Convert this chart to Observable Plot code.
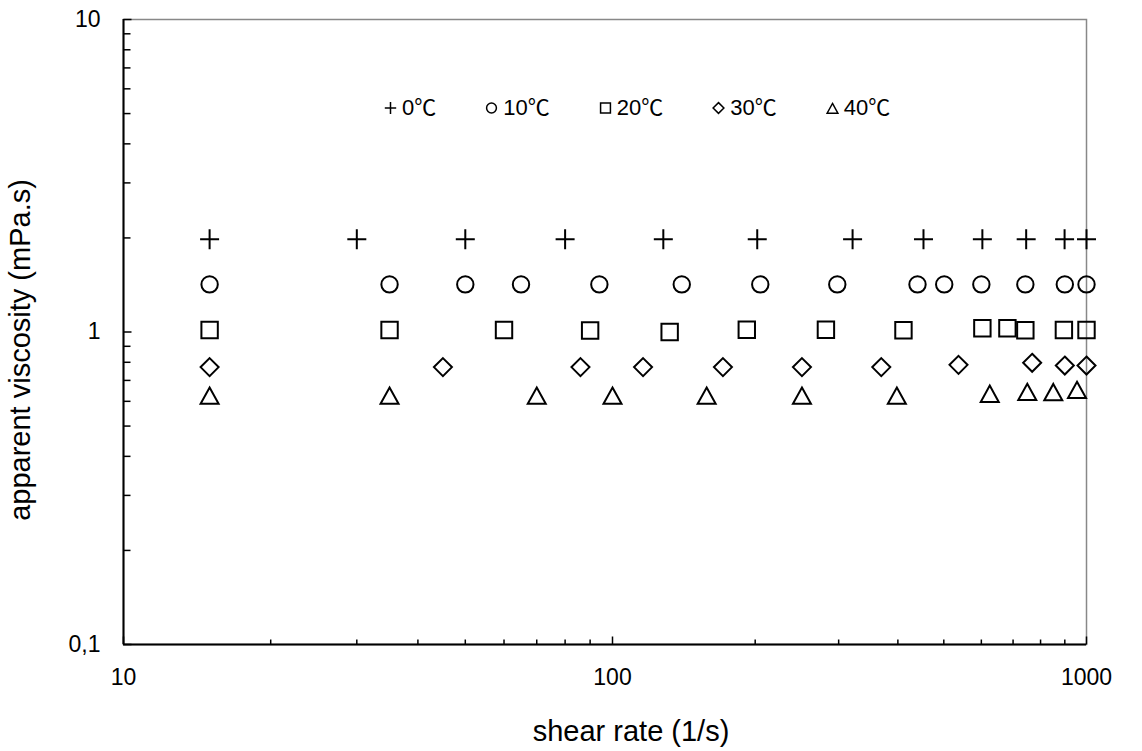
<!DOCTYPE html>
<html>
<head>
<meta charset="utf-8">
<script src="https://cdn.jsdelivr.net/npm/d3@7"></script>
<script src="https://cdn.jsdelivr.net/npm/@observablehq/plot@0.6"></script>
<style>
  body { margin: 0; background: #fff; }
  #wrap { position: relative; width: 1142px; height: 751px; font-family: "Liberation Sans", Arial, sans-serif; }
  #legend { position: absolute; left: 384px; top: 97px; display: flex; gap: 49px; font-family: "Liberation Sans", Arial, sans-serif; font-size: 22px; line-height: 22px; color: #000; }
  #legend .item { display: flex; align-items: center; white-space: nowrap; height: 22px; }
  #legend .item svg { margin-right: 5px; }
  #legend .unit { font-family: "Noto Sans CJK SC", "Noto Sans CJK JP", sans-serif; line-height: 0; }
</style>
</head>
<body>
<div id="wrap"><div id="legend"></div></div>
<script>
// ---- data ----
const seriesLabels = ["0℃", "10℃", "20℃", "30℃", "40℃"];

const shear0 = [15, 30, 50, 80, 128, 202, 321, 453, 603, 746, 899, 1000];
const visc0  = [1.98, 1.98, 1.98, 1.98, 1.98, 1.98, 1.98, 1.98, 1.98, 1.98, 1.98, 1.98];

const shear10 = [15, 35, 50, 65, 94, 140, 205, 298, 440, 501, 600, 743, 900, 1000];
const visc10  = [1.42, 1.42, 1.42, 1.42, 1.42, 1.42, 1.42, 1.42, 1.42, 1.42, 1.42, 1.42, 1.42, 1.42];

const shear20 = [15, 35, 60, 90, 132, 192, 282, 411, 603, 681, 743, 896, 1000];
const visc20  = [1.015, 1.015, 1.015, 1.011, 1.0, 1.017, 1.017, 1.013, 1.028, 1.028, 1.013, 1.015, 1.015];

const shear30 = [15, 45, 86, 116, 171, 251, 369, 537, 768, 900, 1000];
const visc30  = [0.772, 0.772, 0.772, 0.772, 0.772, 0.772, 0.772, 0.785, 0.797, 0.781, 0.781];

const shear40 = [15, 35, 70, 100, 158, 251, 398, 625, 750, 851, 955];
const visc40  = [0.628, 0.628, 0.628, 0.628, 0.628, 0.628, 0.628, 0.637, 0.646, 0.645, 0.655];

const xTicks = [10, 100, 1000];
const yTicks = [0.1, 1, 10];
const xTitle = "shear rate (1/s)";
const yTitle = "apparent viscosity (mPa.s)";

// ---- symbols (Excel-like outline markers) ----
const symPlus = {draw(c) { c.moveTo(-9.5, 0); c.lineTo(9.5, 0); c.moveTo(0, -10); c.lineTo(0, 10); }};
const symCircle = {draw(c) { c.moveTo(8.2, 0); c.arc(0, 0, 8.2, 0, 2 * Math.PI); c.closePath(); }};
const symSquare = {draw(c) { c.moveTo(-8.2, -8.2); c.lineTo(8.2, -8.2); c.lineTo(8.2, 8.2); c.lineTo(-8.2, 8.2); c.closePath(); }};
const symDiamond = {draw(c) { c.moveTo(0, -9); c.lineTo(9, 0); c.lineTo(0, 9); c.lineTo(-9, 0); c.closePath(); }};
const symTriangle = {draw(c) { c.moveTo(0, -7.6); c.lineTo(9, 8.7); c.lineTo(-9, 8.7); c.closePath(); }};
const symbols = [symPlus, symCircle, symSquare, symDiamond, symTriangle];

// tick symbols drawn inward from the axes
const tickUp = (l) => ({draw(c) { c.moveTo(0, 0); c.lineTo(0, -l); }});
const tickRight = (l) => ({draw(c) { c.moveTo(0, 0); c.lineTo(l, 0); }});

// minor tick values (log decades)
const xMinor = [];
for (const d of [10, 100]) for (let k = 2; k <= 9; k++) xMinor.push(k * d);
const yMinor = [];
for (const d of [0.1, 1]) for (let k = 2; k <= 9; k++) yMinor.push(+(k * d).toFixed(2));

const toRows = (xs, ys) => xs.map((x, i) => ({x, y: ys[i]}));
const allSeries = [
  toRows(shear0, visc0), toRows(shear10, visc10), toRows(shear20, visc20),
  toRows(shear30, visc30), toRows(shear40, visc40)
];

const chart = Plot.plot({
  width: 1142,
  height: 751,
  marginLeft: 123,
  marginRight: 56,
  marginTop: 19,
  marginBottom: 107,
  style: {fontFamily: '"Liberation Sans", Arial, sans-serif', fontSize: "23px", color: "black", background: "white", overflow: "visible"},
  x: {type: "log", domain: [10, 100, 1000], range: [123, 612, 1086]},
  y: {type: "log", domain: [0.1, 10]},
  marks: [
    Plot.frame({stroke: "#888888", strokeWidth: 1.5}),
    Plot.ruleX([10], {stroke: "black", strokeWidth: 2}),
    Plot.ruleY([0.1], {stroke: "black", strokeWidth: 2}),
    // inward ticks
    Plot.dot(xMinor, {x: d => d, frameAnchor: "bottom", symbol: tickUp(5), fill: "none", stroke: "black", strokeWidth: 1.5}),
    Plot.dot(xTicks, {x: d => d, frameAnchor: "bottom", symbol: tickUp(8), fill: "none", stroke: "black", strokeWidth: 1.5}),
    Plot.dot(yMinor, {y: d => d, frameAnchor: "left", symbol: tickRight(7), fill: "none", stroke: "black", strokeWidth: 1.5}),
    Plot.dot(yTicks, {y: d => d, frameAnchor: "left", symbol: tickRight(8), fill: "none", stroke: "black", strokeWidth: 1.5}),
    // tick labels
    Plot.axisX({ticks: xTicks, tickSize: 0, tickPadding: 24, tickFormat: d => String(d), fontSize: 23, label: null}),
    Plot.axisY({ticks: yTicks, tickSize: 0, tickPadding: 23, tickFormat: d => d < 1 ? "0,1" : String(d), fontSize: 23, label: null}),
    // axis titles
    Plot.text([xTitle], {frameAnchor: "bottom", text: d => d, textAnchor: "middle", lineAnchor: "top", dx: 26, dy: 76, fontSize: 29, fill: "black"}),
    Plot.text([yTitle], {frameAnchor: "left", text: d => d, textAnchor: "middle", lineAnchor: "middle", rotate: -90, dx: -103, dy: 18, fontSize: 29, fill: "black"}),
    // data
    ...allSeries.map((rows, i) =>
      Plot.dot(rows, {x: "x", y: "y", symbol: symbols[i], fill: "none", stroke: "black", strokeWidth: 2})
    )
  ]
});

const wrap = document.getElementById("wrap");
wrap.insertBefore(chart, wrap.firstChild);

// ---- legend (HTML, inside the plot area) ----
const legend = d3.select("#legend");
seriesLabels.forEach((label, i) => {
  const item = legend.append("div").attr("class", "item");
  const svg = item.append("svg").attr("width", 13).attr("height", 14).attr("viewBox", "-6.5 -7 13 14");
  const p = d3.path();
  const s = 0.6;
  // scaled-down versions of the chart markers
  const ctx = {
    moveTo: (x, y) => p.moveTo(x * s, y * s),
    lineTo: (x, y) => p.lineTo(x * s, y * s),
    arc: (x, y, r, a0, a1) => p.arc(x * s, y * s, r * s, a0, a1),
    closePath: () => p.closePath()
  };
  symbols[i].draw(ctx);
  svg.append("path").attr("d", p.toString()).attr("fill", "none").attr("stroke", "black").attr("stroke-width", 1.5);
  const txt = item.append("span");
  txt.append("span").text(label.slice(0, -1));
  txt.append("span").attr("class", "unit").text(label.slice(-1));
});
</script>
</body>
</html>
